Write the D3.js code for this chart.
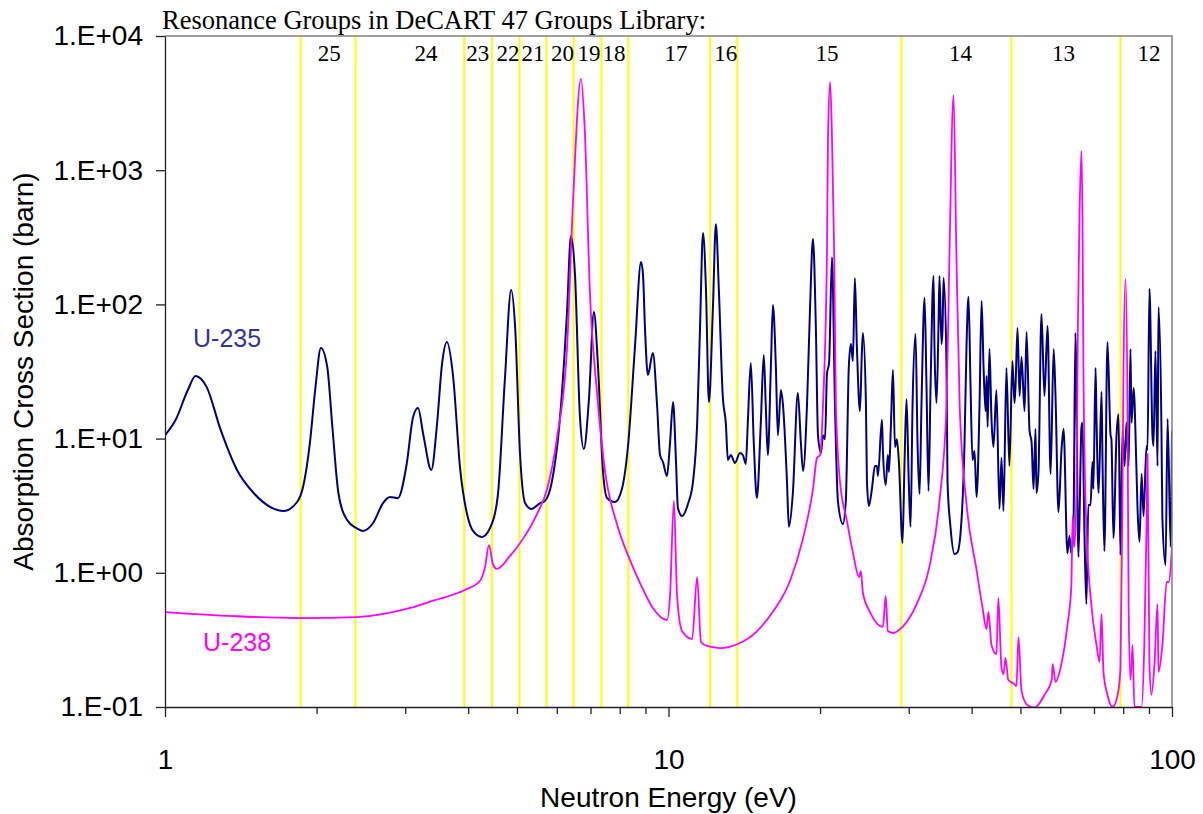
<!DOCTYPE html>
<html>
<head>
<meta charset="utf-8">
<script src="https://cdn.jsdelivr.net/npm/d3@7/dist/d3.min.js"></script>
<style>
  body { margin: 0; background: #fff; }
  text { font-family: Arial, "Liberation Sans", sans-serif; fill: #000; }
  .serif { font-family: "Times New Roman", "Liberation Serif", serif; }
</style>
</head>
<body>
<script>
// U-235 absorption cross section, [energy (eV), barn]
const u235 = [
  [1.00,10.6],[1.05,13.8],[1.11,23.0],[1.15,29.3],[1.21,24.2],[1.29,11.6],[1.39,5.84],[1.50,3.93],
  [1.62,3.09],[1.72,2.89],[1.83,3.37],[1.88,4.36],[1.94,9.3],[1.99,24.2],[2.04,47.3],[2.10,34.2],
  [2.15,12.2],[2.21,3.93],[2.30,2.47],[2.40,2.15],[2.47,2.05],[2.59,2.35],[2.71,3.31],[2.80,3.67],
  [2.90,3.6],[3.02,6.47],[3.11,14.5],[3.18,16.9],[3.26,10.6],[3.38,5.84],[3.47,12.9],[3.55,36],
  [3.63,52.4],[3.73,30.3],[3.86,5.74],[3.98,2.74],[4.09,2.05],[4.26,1.85],[4.42,2.15],[4.58,3.73],
  [4.73,26.9],[4.87,128],[4.96,66.7],[5.07,7.81],[5.19,3.31],[5.34,2.99],[5.56,3.31],[5.68,3.43],
  [5.87,4.83],[6.09,14.5],[6.29,90.8],[6.40,324],[6.52,168],[6.67,14.5],[6.79,8.37],[6.95,19.7],
  [7.11,87.8],[7.24,36],[7.41,5.74],[7.55,3.61],[7.83,3.37],[8.08,4.21],[8.31,8.81],[8.58,49],
  [8.82,207],[8.90,166],[8.98,66.7],[9.10,29.8],[9.31,43.4],[9.49,17.8],[9.62,7.55],[9.75,6.69],
  [9.93,5.26],[10.07,9.27],[10.21,18.7],[10.35,6.69],[10.44,3.04],[10.64,2.65],[10.93,3.26],[11.19,4.83],
  [11.40,12.9],[11.55,66.7],[11.71,340],[11.87,128],[12.03,18.7],[12.25,92.4],[12.42,396],[12.59,128],
  [12.82,20.4],[13.0,12.9],[13.12,6.93],[13.30,7.55],[13.55,6.58],[13.86,7.81],[14.05,7.55],[14.24,6.47],
  [14.37,12.9],[14.57,36.6],[14.77,9.27],[14.98,3.61],[15.25,12.9],[15.46,42],[15.60,17.8],[15.75,7.55],
  [15.97,34.2],[16.12,99],[16.34,34.2],[16.49,10.6],[16.72,23],[16.88,17.8],[17.19,4.83],[17.34,2.20],
  [17.66,3.93],[18.07,21.9],[18.32,9.27],[18.50,5.74],[18.84,17.8],[19.10,92.4],[19.36,307],[19.62,66.7],
  [19.81,10.6],[20.08,7.81],[20.27,10.6],[20.46,9.9],[20.64,30.3],[20.84,36.6],[21.12,225],[21.41,17.8],
  [21.70,3.43],[22.20,2.31],[22.50,3.43],[22.81,34.2],[23.03,50.7],[23.24,37.8],[23.45,157],[23.67,48.1],
  [24.0,16.0],[24.22,44.9],[24.33,61.2],[24.67,17.8],[24.78,4.83],[25.0,3.14],[25.35,4.21],[25.70,6.25],
  [25.94,6.25],[26.06,5.26],[26.54,13.8],[26.66,8.08],[27.0,4.51],[27.27,7.55],[27.40,5.64],[27.66,12.9],
  [27.91,32.5],[28.17,8.66],[28.42,9.9],[28.68,6.69],[29.16,1.67],[29.43,6.69],[29.70,19.7],[30.0,4.83],
  [30.25,2.20],[30.53,17.8],[30.95,60.1],[31.23,9.27],[31.52,3.86],[31.80,17.8],[32.25,112],[32.54,24.6],
  [32.84,4.07],[33.15,24.6],[33.60,163],[33.75,48.1],[34.06,18.4],[34.37,66.7],[34.53,163],[34.85,50.7],
  [35.02,66.7],[35.18,157],[35.66,34.2],[35.82,4.83],[36.31,2.2],[36.99,1.38],[37.48,1.42],[38.19,2.47],
  [38.72,9.27],[39.07,48.1],[39.43,114],[39.80,24.6],[40.16,6.93],[40.53,8.08],[40.91,3.67],[41.47,17.8],
  [41.86,106],[42.24,34.2],[42.63,16.0],[42.83,29.3],[43.03,12.2],[43.40,46.5],[43.80,14.0],[44.20,8.66],
  [44.80,23.0],[45.43,2.99],[45.85,7.17],[46.27,2.89],[46.90,33.6],[47.54,6.25],[48.20,37.8],[48.66,18.4],
  [48.89,24.6],[49.34,66.7],[49.80,20.8],[50.25,40.6],[50.95,16.0],[51.42,62.3],[52.13,11.4],[52.61,9.43],
  [53.09,4.21],[53.57,11.8],[53.80,3.93],[54.30,5.64],[55.05,84.8],[55.80,20.8],[56.60,69.0],[57.40,5.45],
  [58.20,46.5],[58.70,20.8],[59.50,2.84],[60.33,8.22],[60.90,11.8],[61.98,1.40],[62.56,1.88],[63.10,1.40],
  [63.70,2.01],[64.30,61.2],[65.20,1.31],[66.10,12.2],[66.40,13.1],[67.00,2.01],[67.60,0.585],[68.20,3.2],
  [68.90,3.2],[69.50,6.69],[69.80,4.21],[70.50,33.6],[70.80,14.0],[71.50,3.93],[72.45,22.3],[72.80,6.25],
  [73.40,1.45],[74.45,52.4],[75.50,10.6],[75.80,9.9],[76.50,1.82],[77.60,10.6],[78.30,15.2],[79.00,1.36],
  [79.75,11.4],[80.50,6.25],[81.20,13.1],[82.00,6.25],[82.70,46.5],[83.10,13.1],[83.90,23.8],[85.00,5.84],
  [85.40,3.09],[86.20,1.7],[87.00,5.45],[87.80,2.65],[89.00,8.81],[89.40,8.22],[90.20,131],[91.45,10.6],
  [91.90,8.81],[92.70,44.9],[93.60,6.25],[94.00,95.6],[95.30,11.4],[95.70,2.56],[97.10,1.14],[98.00,14.0],
  [99.40,1.56],[100,11.4]
];

// U-238 absorption cross section, [energy (eV), barn]
const u238 = [
  [1.00,0.51],[1.37,0.476],[1.85,0.46],[2.40,0.468],[3.07,0.547],[3.41,0.62],[3.94,0.745],[4.22,0.869],
  [4.32,1.10],[4.40,1.61],[4.48,1.16],[4.56,1.07],[4.84,1.33],[5.14,1.79],[5.48,2.74],[5.74,4.21],
  [6.00,9.93],[6.29,49],[6.46,570],[6.70,4780],[6.82,1960],[6.98,124],[7.21,22.3],[7.48,5.74],
  [7.90,2.31],[8.38,1.25],[8.78,0.839],[9.31,0.547],[9.93,0.445],[10.07,0.671],[10.25,3.43],[10.40,0.671],
  [10.64,0.368],[11.14,0.321],[11.40,0.93],[11.60,0.305],[11.92,0.285],[12.65,0.275],[13.73,0.295],[15.0,0.368],
  [16.1,0.51],[17.43,0.869],[18.49,1.79],[19.36,4.21],[19.72,7.17],[20.0,7.55],[20.27,17.8],[20.64,246],
  [20.74,1770],[20.94,4540],[21.12,1770],[21.33,246],[21.50,17.8],[21.90,4.83],[22.60,2.47],[23.27,1.38],
  [23.90,0.93],[24.10,1.03],[24.33,0.707],[25.13,0.51],[26.66,0.395],[27.0,0.671],[27.27,0.368],[27.90,0.356],
  [29.16,0.395],[31.10,0.585],[32.99,1.12],[34.53,3.43],[35.66,17.8],[36.15,246],[36.82,3630],[37.30,246],
  [37.87,17.8],[39.07,3.26],[40.91,1.05],[42.05,0.547],[42.8,0.381],[43.2,0.51],[43.80,0.29],[44.80,0.248],
  [45.20,0.649],[45.85,0.195],[46.27,0.176],[46.70,0.232],[47.30,0.159],[48.66,0.148],[49.10,0.143],[49.56,0.332],
  [50.25,0.132],[51.66,0.103],[53.4,0.099],[55.80,0.123],[57.70,0.159],[57.95,0.209],[58.70,0.154],[60.30,0.209],
  [62.00,0.409],[63.10,0.797],[63.50,2.65],[64.00,1.56],[64.60,4.21],[65.0,61.2],[65.50,448],[66.10,1390],
  [66.40,448],[66.70,31.4],[67.60,2.15],[69.20,0.566],[70.80,0.29],[71.80,0.216],[72.45,0.493],[73.10,0.182],
  [74.45,0.123],[76.20,0.1],[78.0,0.123],[79.0,0.195],[79.75,4.21],[80.10,31.4],[80.85,155],[81.60,16.0],
  [82.0,0.566],[82.70,0.159],[83.50,0.29],[84.20,0.1],[87.0,0.1],[88.10,0.29],[89.0,2.15],[89.40,7.68],
  [90.20,0.209],[91.0,0.123],[92.30,0.209],[93.60,0.585],[94.0,0.182],[95.70,0.29],[97.60,0.854],[98.50,0.854],
  [100,1.56]
];

// group boundaries (eV) and group numbers with their label energies
const groupBounds = [1.86, 2.39, 3.93, 4.46, 5.06, 5.72, 6.48, 7.36, 8.32, 12.1, 13.7, 29.0, 48.0, 79.0];
const groupNames = ["25", "24", "23", "22", "21", "20", "19", "18", "17", "16", "15", "14", "13", "12"];
const groupLabelE = [2.12, 3.30, 4.18, 4.80, 5.38, 6.16, 6.95, 7.79, 10.35, 13.0, 20.64, 38.0, 60.9, 90.0];

const xMajor = [1, 10, 100];
const xMinor = [2, 3, 4, 5, 6, 7, 8, 9, 20, 30, 40, 50, 60, 70, 80, 90];
const yTicks = [0.1, 1, 10, 100, 1000, 10000];

const width = 1203, height = 814;
const margin = {top: 36, right: 31, bottom: 107, left: 165};
const plotW = width - margin.left - margin.right,
    plotH = height - margin.top - margin.bottom;

const svg = d3.select("body").append("svg")
    .attr("width", width)
    .attr("height", height);

svg.append("rect").attr("width", width).attr("height", height).attr("fill", "#fff");

const x = d3.scaleLog().domain([1, 100]).range([margin.left, margin.left + plotW]);
const y = d3.scaleLog().domain([0.1, 10000]).range([margin.top + plotH, margin.top]);

svg.append("clipPath").attr("id", "plotclip")
  .append("rect")
    .attr("x", margin.left).attr("y", margin.top)
    .attr("width", plotW).attr("height", plotH);

// yellow group boundaries
svg.append("g")
  .selectAll("line")
  .data(groupBounds)
  .enter().append("line")
    .attr("x1", d => x(d)).attr("x2", d => x(d))
    .attr("y1", margin.top).attr("y2", margin.top + plotH)
    .attr("stroke", "#ffff00")
    .attr("stroke-width", 2);

const line = d3.line()
    .x(d => x(d[0]))
    .y(d => y(d[1]))
    .curve(d3.curveMonotoneX);

const curves = svg.append("g").attr("clip-path", "url(#plotclip)");

curves.append("path")
    .datum(u235)
    .attr("d", line)
    .attr("fill", "none")
    .attr("stroke", "#000080")
    .attr("stroke-width", 2)
    .attr("stroke-linejoin", "round");

curves.append("path")
    .datum(u238)
    .attr("d", line)
    .attr("fill", "none")
    .attr("stroke", "#ff00ff")
    .attr("stroke-width", 1.8)
    .attr("stroke-linejoin", "round");

// top and right frame
svg.append("path")
    .attr("d", "M" + margin.left + "," + margin.top + "H" + (margin.left + plotW) + "V" + (margin.top + plotH))
    .attr("fill", "none")
    .attr("stroke", "#808080")
    .attr("stroke-width", 1.5);

// x axis
svg.append("g")
    .attr("transform", "translate(0," + (margin.top + plotH) + ")")
    .call(d3.axisBottom(x).tickValues(xMajor).tickFormat(d3.format("d"))
        .tickSize(10).tickSizeOuter(0).tickPadding(32));
svg.append("g")
    .attr("transform", "translate(0," + (margin.top + plotH) + ")")
    .call(d3.axisBottom(x).tickValues(xMinor).tickFormat("").tickSize(7).tickSizeOuter(0))
    .select(".domain").remove();

// y axis
const fmtExp = d => {
  const e = Math.round(Math.log10(d));
  return "1.E" + (e < 0 ? "-" : "+") + String(Math.abs(e)).padStart(2, "0");
};
svg.append("g")
    .attr("transform", "translate(" + margin.left + ",0)")
    .call(d3.axisLeft(y).tickValues(yTicks).tickFormat(fmtExp)
        .tickSize(9).tickSizeOuter(0).tickPadding(13));

svg.selectAll(".domain, .tick line")
    .attr("stroke", "#222")
    .attr("stroke-width", 1.3);
svg.selectAll(".tick text")
    .attr("font-family", "Arial, 'Liberation Sans', sans-serif")
    .attr("font-size", 28)
    .attr("fill", "#000");

// axis titles
svg.append("text")
    .attr("x", margin.left + plotW / 2)
    .attr("y", 807)
    .attr("text-anchor", "middle")
    .attr("font-size", 28)
    .text("Neutron Energy (eV)");

svg.append("text")
    .attr("transform", "translate(33," + (margin.top + plotH / 2) + ") rotate(-90)")
    .attr("text-anchor", "middle")
    .attr("font-size", 28)
    .text("Absorption Cross Section (barn)");

// header and group numbers
svg.append("text")
    .attr("class", "serif")
    .attr("x", 162)
    .attr("y", 29)
    .attr("font-size", 26.5)
    .text("Resonance Groups in DeCART 47 Groups Library:");

svg.append("g")
  .selectAll("text")
  .data(groupNames)
  .enter().append("text")
    .attr("class", "serif")
    .attr("x", (d, i) => x(groupLabelE[i]))
    .attr("y", 61)
    .attr("text-anchor", "middle")
    .attr("font-size", 23)
    .text(d => d);

// series labels
svg.append("text")
    .attr("x", 193)
    .attr("y", 347)
    .attr("font-size", 25)
    .style("fill", "#333399")
    .text("U-235");

svg.append("text")
    .attr("x", 203)
    .attr("y", 651)
    .attr("font-size", 25)
    .style("fill", "#ff00ff")
    .text("U-238");
</script>
</body>
</html>
